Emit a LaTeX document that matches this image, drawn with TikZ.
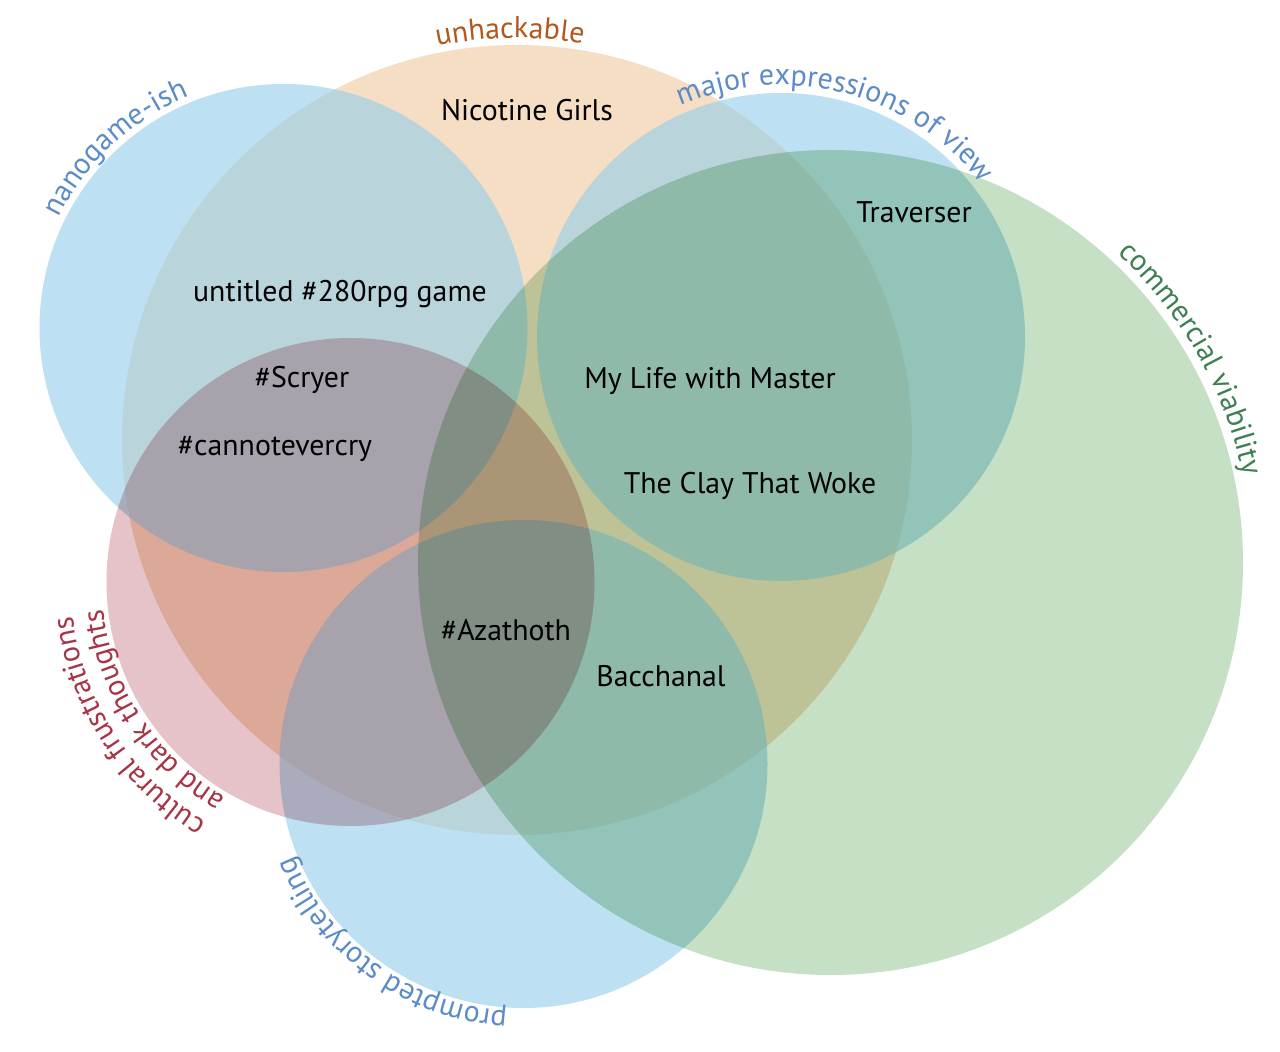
\documentclass[tikz,border=0pt]{standalone}
\usepackage{fontspec}
\setmainfont{PT Sans}
\usetikzlibrary{decorations.text,calc}
\definecolor{orS}{RGB}{245,222,196}
\definecolor{blB}{RGB}{150,206,235}
\definecolor{grS}{RGB}{197,224,197}
\definecolor{rdS}{RGB}{230,195,200}
\definecolor{labOr}{RGB}{178,88,30}
\definecolor{labBl}{RGB}{92,140,200}
\definecolor{labGr}{RGB}{62,128,82}
\definecolor{labRd}{RGB}{168,52,72}
\tikzset{
  plainset/.style={fill=#1},
  glassset/.style={fill=#1, fill opacity=0.62},
  mulset/.style={fill=#1, blend mode=multiply},
  item/.style={font=\fontsize{14.9}{18}\selectfont, text=black, inner sep=0pt},
}
\newcommand{\lblfont}{\fontsize{15}{18}\selectfont}
\begin{document}
\begin{tikzpicture}[x=0.5pt,y=0.5pt]
\fill[white] (0,0) rectangle (1280,1051);
\useasboundingbox (0,0) rectangle (1280,1051);
% sets
\fill[plainset=orS] (517,611) circle[radius=197.5pt];
\fill[glassset=blB] (283.5,723) circle[radius=122pt];
\fill[glassset=blB] (781,714) circle[radius=122pt];
\fill[glassset=blB] (523.5,287) circle[radius=122pt];
\fill[mulset=grS] (830.5,488.5) circle[radius=206.25pt];
\fill[mulset=rdS] (350.5,469) circle[radius=122pt];
% curved set labels
\path[decorate,decoration={text along path,text align=center,
  text={|\lblfont\color{labOr}|unhackable}}]
  ($(517,611)+(110:201pt)$) arc[start angle=110,end angle=72,radius=201pt];
\path[decorate,decoration={text along path,text align=center,
  text={|\lblfont\color{labBl}|nanogame-ish}}]
  ($(283.5,723)+(165:125pt)$) arc[start angle=165,end angle=101,radius=125pt];
\path[decorate,decoration={text along path,text align=center,
  text={|\lblfont\color{labBl}|major expressions of view}}]
  ($(781,714)+(125:126pt)$) arc[start angle=125,end angle=26,radius=126pt];
\path[decorate,decoration={text along path,text align=center,
  text={|\lblfont\color{labGr}|commercial viability}}]
  ($(830.5,488.5)+(55:211pt)$) arc[start angle=55,end angle=4,radius=211pt];
\path[decorate,decoration={text along path,text align=center,
  text={|\lblfont\color{labRd}|cultural frustrations}}]
  ($(350.5,469)+(250:140pt)$) arc[start angle=250,end angle=176,radius=140pt];
\path[decorate,decoration={text along path,text align=center,
  text={|\lblfont\color{labRd}|and dark thoughts}}]
  ($(350.5,469)+(250:124.5pt)$) arc[start angle=250,end angle=176,radius=124.5pt];
\path[decorate,decoration={text along path,text align=center,
  text={|\lblfont\color{labBl}|prompted storytelling}}]
  ($(523.5,287)+(282:124pt)$) arc[start angle=282,end angle=186,radius=124pt];
% items
\node[item] (nic) at (527,941) {Nicotine Girls};
\node[item] (trav) at (914,839) {Traverser};
\node[item] (unt) at (340,757) {untitled \#280rpg game};
\node[item] (scry) at (302,671) {\#Scryer};
\node[item] (cann) at (275,602) {\#cannotevercry};
\node[item] (mylife) at (710,670) {My Life with Master};
\node[item] (clay) at (750,565) {The Clay That Woke};
\node[item] (aza) at (506,421) {\#Azathoth};
\node[item] (bacc) at (661,375) {Bacchanal};
\end{tikzpicture}
\end{document}
